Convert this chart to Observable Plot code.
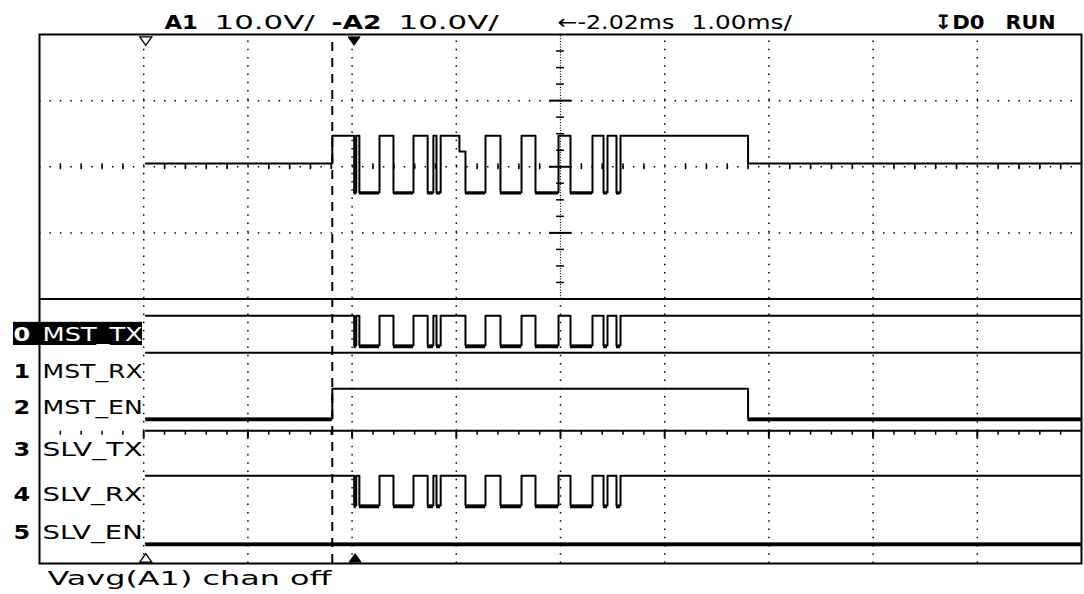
<!DOCTYPE html>
<html><head><meta charset="utf-8">
<script src="https://cdn.jsdelivr.net/npm/d3@7"></script>
<script src="https://cdn.jsdelivr.net/npm/@observablehq/plot@0.6"></script>
<style>
html,body{margin:0;padding:0;background:#fff;}
#chart svg{display:block;}
</style></head><body><div id="chart"></div>
<script>
// ---------------- data ----------------
const headerTexts = ["A1", "10.0V/", "-A2", "10.0V/", "←-2.02ms", "1.00ms/", "↧D0", "RUN"];
const footerText = "Vavg(A1) chan off";
const channelNumbers = ["0", "1", "2", "3", "4", "5"];
const channelNames = ["MST_TX", "MST_RX", "MST_EN", "SLV_TX", "SLV_RX", "SLV_EN"];

// time in ms relative to the trigger (1.00 ms/div)
const recordStart = -1.98;
const recordEnd = 7.0;
const triggerTime = 0;
const cursorTime = -0.19;

// MST_TX / SLV_RX logic toggle times (ms), starting high
const txToggles = [0.02, 0.04, 0.07, 0.263, 0.397, 0.589, 0.725, 0.78, 0.81, 0.85,
  1.088, 1.28, 1.424, 1.626, 1.76, 1.981, 2.096, 2.307, 2.413, 2.451, 2.537, 2.576];
// MST_EN toggle times, starting low
const enToggles = [-0.19, 3.80];
const channelStartLevels = [1, 1, 0, 1, 1, 0];
const channelToggles = [txToggles, [], enToggles, [], txToggles, []];

// analog A1 (volts, 10 V/div)
const analogTimes = [-1.98, -0.19, 0.02, 0.04, 0.07, 0.263, 0.397, 0.589, 0.725, 0.78, 0.81, 0.85,
  1.03, 1.088, 1.28, 1.424, 1.626, 1.76, 1.981, 2.096, 2.307, 2.413, 2.451, 2.537, 2.576, 3.80, 7.0];
const analogVolts = [0.5, 4.7, -3.9, 4.7, -3.9, 4.7, -3.9, 4.7, -3.9, 4.7, -3.9, 4.7,
  2.3, -3.9, 4.7, -3.9, 4.7, -3.9, 4.7, -3.9, 4.7, -3.9, 4.7, -3.9, 4.7, 0.5, 0.5];

// ---------------- layout ----------------
const W = 1084, H = 594;
const M = {top: 34, right: 3, bottom: 31, left: 39};
const pxPerMs = (W - M.left - M.right) / 10;
const px2t = px => -3 + (px - M.left) / pxPerMs;
const cell = 16.7;               // character cell width of the scope font
const FONT = "DejaVu Sans";
const SCOPE_FONT = "DejaVu Sans, ScopeCellFont";
const chBase = [3.297, 2.737, 2.193, 1.558, 0.877, 0.302]; // low level of each channel (div)
const chSwing = 0.45;
const analogCenter = 6, voltsPerDiv = 10;

// ---------------- derived series ----------------
const analog = analogTimes.map((t, i) => ({t, y: analogCenter + analogVolts[i] / voltsPerDiv, v: analogVolts[i]}));
const vMin = d3.min(analogVolts);
const analogLows = [];
for (let i = 0; i < analog.length - 1; i++)
  if (analog[i].v === vMin) analogLows.push({t1: analog[i].t, t2: analog[i + 1].t, y: analog[i].y});

const digital = [], digitalLows = [];
channelNames.forEach((name, ch) => {
  let v = channelStartLevels[ch];
  const pts = [{ch, t: recordStart, v}];
  for (const t of channelToggles[ch]) { v = 1 - v; pts.push({ch, t, v}); }
  pts.push({ch, t: recordEnd, v});
  pts.forEach(p => p.y = chBase[ch] + p.v * chSwing);
  for (let i = 0; i < pts.length - 1; i++)
    if (pts[i].v === 0) digitalLows.push({t1: pts[i].t, t2: pts[i + 1].t, y: pts[i].y});
  digital.push(...pts);
});

// graticule
const gridTimes = [-2, -1, 0, 1, 3, 4, 5, 6];
const centerTime = 2;
const minorTimes = d3.range(-29, 70).map(k => k / 10).filter(t => Math.abs(t * 5 - Math.round(t * 5)) < 1e-6 && Math.abs(t - Math.round(t)) > 1e-6);
const majorTimes = d3.range(-2, 7);
const vMinor = d3.range(17, 32).map(k => k / 4).filter(d => d % 1 !== 0);

// marker symbols
const triDown = {draw(ctx, size) { const r = Math.sqrt(size / Math.PI); ctx.moveTo(-r, -0.6 * r); ctx.lineTo(r, -0.6 * r); ctx.lineTo(0, 0.8 * r); ctx.closePath(); }};
const triUp = {draw(ctx, size) { const r = Math.sqrt(size / Math.PI); ctx.moveTo(-r, 0.6 * r); ctx.lineTo(r, 0.6 * r); ctx.lineTo(0, -0.8 * r); ctx.closePath(); }};

function textMark(str, opts) {
  return Plot.text([str], {text: d => d, fontFamily: SCOPE_FONT, fontSize: 20, textAnchor: "start", ...opts});
}
const headerPx = [164, 214, 331, 398, 557, 691, 934, 1005];
const headerBold = [true, false, true, false, false, false, true, true];

const marks = [
  // graticule
  Plot.ruleX(gridTimes, {y1: 0, y2: 8, strokeWidth: 1.5, strokeDasharray: "1.5,6.77"}),
  Plot.ruleX([centerTime], {y1: 0, y2: 4, strokeWidth: 1.5, strokeDasharray: "1.5,6.77"}),
  Plot.ruleX([centerTime], {y1: 4, y2: 8, strokeWidth: 1.2, strokeDasharray: "1,1.7"}),
  Plot.ruleY([5, 6, 7], {x1: -3, x2: 7, strokeWidth: 1.5, strokeDasharray: "1.5,8.92"}),
  Plot.ruleX(minorTimes, {y1: 6 - 0.045, y2: 6 + 0.045, strokeWidth: 1.5}),
  Plot.ruleY(vMinor, {x1: centerTime - 0.038, x2: centerTime + 0.038, strokeWidth: 1.5}),
  Plot.ruleY([5, 6, 7], {x1: centerTime - 0.105, x2: centerTime + 0.105, strokeWidth: 2}),
  Plot.ruleX(minorTimes, {y1: 2, y2: 2 - 0.06, strokeWidth: 1.5}),
  Plot.ruleX(majorTimes, {y1: 2, y2: 2 - 0.105, strokeWidth: 2}),
  Plot.ruleY([4], {strokeWidth: 2}),
  Plot.frame({strokeWidth: 2}),
  Plot.ruleX([cursorTime], {y1: 0, y2: 8, strokeWidth: 2, strokeDasharray: "9,7"}),
  // selected-channel highlight
  Plot.rect([0], {x1: px2t(13), x2: px2t(142), y1: chBase[0], y2: chBase[0] + 0.35, fill: "#000"}),
  // analog A1
  Plot.line(analog, {x: "t", y: "y", curve: "step-after", strokeWidth: 2}),
  Plot.ruleY(analogLows, {x1: "t1", x2: "t2", y: "y", strokeWidth: 3, dy: 0.5}),
  // digital channels
  Plot.line(digital, {x: "t", y: "y", z: "ch", curve: "step-after", strokeWidth: 2}),
  Plot.ruleY(digitalLows, {x1: "t1", x2: "t2", y: "y", strokeWidth: 3.5, dy: 1}),
  // markers: record start (hollow) and trigger (filled)
  Plot.dot([recordStart], {x: d => d, frameAnchor: "top", dy: 6, r: 6, symbol: triDown, fill: "#fff", stroke: "#000", strokeWidth: 1.3}),
  Plot.dot([triggerTime], {x: d => d, frameAnchor: "top", dy: 6, dx: 2, r: 6, symbol: triDown, fill: "#000", stroke: "#000", strokeWidth: 1}),
  Plot.dot([recordStart], {x: d => d, frameAnchor: "bottom", dy: -5, r: 6, symbol: triUp, fill: "#fff", stroke: "#000", strokeWidth: 1.3}),
  Plot.dot([triggerTime], {x: d => d, frameAnchor: "bottom", dy: -5, dx: 3, r: 6, symbol: triUp, fill: "#000", stroke: "#000", strokeWidth: 1}),
  // channel labels
  Plot.text(channelNumbers, {y: (d, i) => chBase[i] + 0.16, text: d => d, frameAnchor: "left", dx: -26, textAnchor: "start",
    fill: "#000", fontWeight: "bold", fontFamily: SCOPE_FONT, fontSize: 20, filter: (d, i) => i > 0}),
  Plot.text(channelNames, {y: (d, i) => chBase[i] + 0.16, text: d => d, frameAnchor: "left", dx: 3, textAnchor: "start",
    fill: "#000", fontFamily: SCOPE_FONT, fontSize: 20, filter: (d, i) => i > 0}),
  Plot.text(channelNumbers, {y: (d, i) => chBase[i] + 0.16, text: d => d, frameAnchor: "left", dx: -26, textAnchor: "start",
    fill: "#fff", fontWeight: "bold", fontFamily: SCOPE_FONT, fontSize: 20, filter: (d, i) => i === 0}),
  Plot.text(channelNames, {y: (d, i) => chBase[i] + 0.16, text: d => d, frameAnchor: "left", dx: 3, textAnchor: "start",
    fill: "#fff", fontFamily: SCOPE_FONT, fontSize: 20, filter: (d, i) => i === 0}),
  // header
  ...headerTexts.map((s, i) => textMark(s, {frameAnchor: "top-left", dx: headerPx[i] - M.left, dy: -6, lineAnchor: "bottom",
    fontWeight: headerBold[i] ? "bold" : "normal"})),
  // footer
  textMark(footerText, {frameAnchor: "bottom-left", dx: 47 - M.left, dy: 7, lineAnchor: "top"})
];

const svg = Plot.plot({
  width: W, height: H,
  marginTop: M.top, marginRight: M.right, marginBottom: M.bottom, marginLeft: M.left,
  x: {domain: [-3, 7], axis: null},
  y: {domain: [0, 8], axis: null},
  style: {background: "#fff", color: "#000"},
  marks
});

// stretch scope-font texts to the fixed character cell of the oscilloscope font
svg.querySelectorAll("text").forEach(el => {
  let node = el, isScope = false;
  while (node && node !== svg) {
    const ff = node.getAttribute && node.getAttribute("font-family");
    if (ff && ff.includes("ScopeCellFont")) { isScope = true; break; }
    node = node.parentNode;
  }
  if (!isScope) return;
  const n = Array.from(el.textContent.replace(/ms/g, "m")).length;
  el.setAttribute("textLength", String(n * cell));
  el.setAttribute("lengthAdjust", "spacingAndGlyphs");
});

document.getElementById("chart").appendChild(svg);
</script>
</body></html>
